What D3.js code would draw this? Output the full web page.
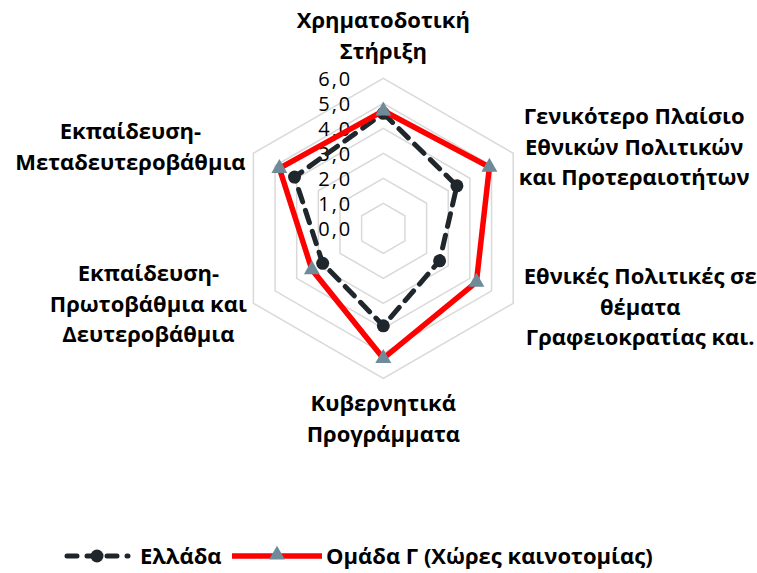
<!DOCTYPE html>
<html>
<head>
<meta charset="utf-8">
<script src="https://cdn.jsdelivr.net/npm/d3@7"></script>
<style>
  body { margin: 0; background: #fff; }
  svg { display: block; font-family: "Open Sans", sans-serif; }
</style>
</head>
<body>
<script>
const categories = [
  ["Χρηματοδοτική", "Στήριξη"],
  ["Γενικότερο Πλαίσιο", "Εθνικών Πολιτικών", "και Προτεραιοτήτων"],
  ["Εθνικές Πολιτικές σε", "θέματα", "Γραφειοκρατίας και."],
  ["Κυβερνητικά", "Προγράμματα"],
  ["Εκπαίδευση-", "Πρωτοβάθμια και", "Δευτεροβάθμια"],
  ["Εκπαίδευση-", "Μεταδευτεροβάθμια"]
];
const greece = [4.6, 3.4, 2.6, 3.9, 2.8, 4.1];
const groupG = [4.7, 4.9, 4.3, 5.2, 3.3, 4.8];
const ticks = [0, 1, 2, 3, 4, 5, 6];
const seriesNames = ["Ελλάδα", "Ομάδα Γ (Χώρες καινοτομίας)"];

const width = 757, height = 573;
const cx = 383.3, cy = 228.3, R = 150;

const svg = d3.select("body").append("svg")
  .attr("width", width)
  .attr("height", height);

const r = d3.scaleLinear().domain([0, 6]).range([0, R]);
const angle = d3.scalePoint()
  .domain(d3.range(categories.length))
  .range([0, 2 * Math.PI * (categories.length - 1) / categories.length]);

const pt = (i, v) => [cx + r(v) * Math.sin(angle(i)), cy - r(v) * Math.cos(angle(i))];

// grid rings
svg.append("g").selectAll("polygon")
  .data(ticks.filter(t => t > 0))
  .join("polygon")
  .attr("points", t => categories.map((c, i) => pt(i, t).join(",")).join(" "))
  .attr("fill", "none")
  .attr("stroke", "#d9d9d9")
  .attr("stroke-width", 1.5);

// tick labels
const fmt = v => d3.format(".1f")(v).replace(".", ",");
svg.append("g").selectAll("text")
  .data(ticks)
  .join("text")
  .attr("x", cx - 31)
  .attr("y", t => cy - r(t))
  .attr("dy", "0.36em")
  .attr("text-anchor", "end")
  .style("font-size", "20px")
  .style("letter-spacing", "2px")
  .attr("fill", "#000")
  .text(t => fmt(t));

// category labels (excel-like placement around the web)
const labelPos = [
  {dx: 0, dy: -50},
  {dx: 121, dy: -29},
  {dx: 127, dy: -19},
  {dx: 0, dy: 33},
  {dx: -105, dy: -22},
  {dx: -123, dy: -14}
];
const lab = svg.append("g").selectAll("text")
  .data(categories)
  .join("text")
  .attr("text-anchor", "middle")
  .style("font-size", "22px")
  .style("font-weight", "bold")
  .attr("fill", "#000")
  .attr("transform", (d, i) => {
    const [x, y] = pt(i, 6);
    return `translate(${x + labelPos[i].dx},${y + labelPos[i].dy})`;
  });
lab.selectAll("tspan")
  .data(d => d)
  .join("tspan")
  .attr("x", 0)
  .attr("y", (d, j) => j * 30.5)
  .text(d => d);

const line = d3.line().curve(d3.curveLinearClosed);

// series
svg.append("path")
  .attr("d", line(greece.map((v, i) => pt(i, v))))
  .attr("fill", "none")
  .attr("stroke", "#1f272d")
  .attr("stroke-width", 5)
  .attr("stroke-dasharray", "13,9")
  .attr("stroke-linecap", "round");

svg.append("g").selectAll("circle")
  .data(greece)
  .join("circle")
  .attr("cx", (v, i) => pt(i, v)[0])
  .attr("cy", (v, i) => pt(i, v)[1])
  .attr("r", 6.5)
  .attr("fill", "#1f272d");

svg.append("path")
  .attr("d", line(groupG.map((v, i) => pt(i, v))))
  .attr("fill", "none")
  .attr("stroke", "#ff0000")
  .attr("stroke-width", 5.5)
  .attr("stroke-linejoin", "miter");

const tri = d3.symbol().type(d3.symbolTriangle).size(110);
svg.append("g").selectAll("path")
  .data(groupG)
  .join("path")
  .attr("d", tri)
  .attr("transform", (v, i) => `translate(${pt(i, v)})`)
  .attr("fill", "#6f8b99");

// legend
const ly = 556;
const lg = svg.append("g");
lg.append("line")
  .attr("x1", 67).attr("x2", 128).attr("y1", ly).attr("y2", ly)
  .attr("stroke", "#1f272d").attr("stroke-width", 5)
  .attr("stroke-dasharray", "10,10").attr("stroke-linecap", "round");
lg.append("circle").attr("cx", 97).attr("cy", ly).attr("r", 6.5).attr("fill", "#1f272d");
lg.append("text").attr("x", 140).attr("y", ly).attr("dy", "0.35em")
  .style("font-size", "22px").style("font-weight", "bold").text(seriesNames[0]);
lg.append("line")
  .attr("x1", 232).attr("x2", 322).attr("y1", ly).attr("y2", ly)
  .attr("stroke", "#ff0000").attr("stroke-width", 5.5);
lg.append("path").attr("d", tri).attr("transform", `translate(277,${ly - 1})`).attr("fill", "#6f8b99");
lg.append("text").attr("x", 326).attr("y", ly).attr("dy", "0.35em")
  .style("font-size", "22px").style("font-weight", "bold").text(seriesNames[1]);
</script>
</body>
</html>
